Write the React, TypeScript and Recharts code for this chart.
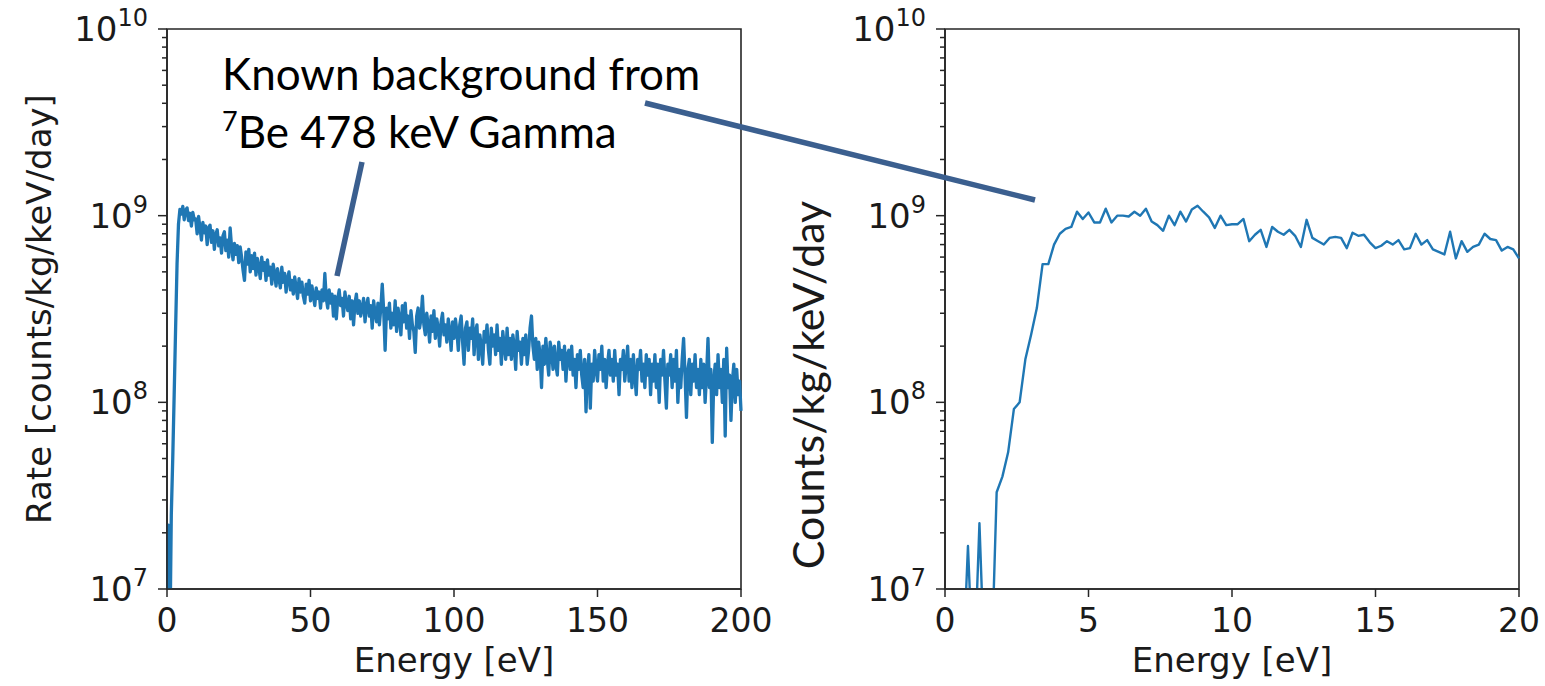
import { LineChart, Line, XAxis, YAxis, ReferenceArea } from 'recharts'

const LEFT_STEP_EV = 0.5
const RIGHT_STEP_EV = 0.2

// rate, units of 1e8 counts/kg/keV/day, 0..200 eV in 0.5 eV bins
const leftRateE8 = [
  0.03, 0.22, 0.05, 0.25, 0.5, 1.1, 2.5, 5.5, 9.0, 10.8,
  10.2, 11.2, 9.5, 10.7, 11.0, 9.4, 10.3, 8.8, 10.4, 9.5,
  9.6, 8.0, 9.9, 8.6, 7.4, 9.2, 8.1, 8.8, 7.0, 8.6,
  8.9, 7.2, 8.3, 6.6, 7.9, 8.4, 6.9, 7.6, 6.3, 7.8,
  8.2, 6.5, 7.4, 6.0, 8.6, 6.8, 5.8, 7.1, 6.2, 6.9,
  5.6, 6.8, 6.0, 5.1, 4.5, 6.4, 5.5, 6.6, 5.0, 6.1,
  5.2, 6.3, 4.8, 5.9, 5.3, 4.6, 6.0, 5.1, 5.6, 4.5,
  5.8, 4.8, 5.3, 4.3, 5.5, 4.9, 4.2, 5.2, 4.6, 4.1,
  5.3, 4.4, 4.9, 3.9, 4.6, 5.0, 4.0, 4.5, 3.8, 4.7,
  4.1, 3.6, 4.6, 3.9, 4.4, 3.7, 3.4, 4.3, 3.8, 4.5,
  3.5, 4.2, 3.7, 3.3, 4.1, 3.6, 3.9, 3.2, 4.0, 3.5,
  4.9, 3.6, 3.2, 4.0, 3.4, 3.8, 2.9, 3.7, 2.8, 3.6,
  4.0, 3.3, 3.6, 2.9, 3.9, 3.4, 3.1, 3.7, 2.8, 3.5,
  2.6, 3.4, 3.8, 3.0, 3.5, 2.9, 3.2, 3.6, 2.7, 3.3,
  3.6, 2.9, 3.3, 2.5, 3.5, 3.0, 2.7, 3.4, 2.6, 3.2,
  4.3, 3.1, 1.9, 3.2, 2.8, 3.4, 2.5, 3.0, 2.6, 3.5,
  2.4, 3.2, 2.8, 2.3, 3.3, 2.7, 3.4, 2.5, 2.9, 2.2,
  3.1, 2.6, 2.4, 1.85, 2.9, 3.2, 2.5, 2.8, 3.7, 2.6,
  2.3, 3.0, 2.6, 2.1, 2.9, 2.4, 3.1, 2.2, 2.8, 2.5,
  2.0, 2.7, 3.0, 2.3, 2.6, 2.1, 2.8, 2.4, 1.9, 2.7,
  2.2, 2.8, 2.4, 1.9, 2.6, 2.9, 2.1, 1.6, 2.5, 2.7,
  1.9, 2.5, 2.2, 2.8, 1.8, 2.4, 2.6, 1.7, 2.3, 2.0,
  1.6, 2.4, 2.1, 2.6, 1.9, 1.6, 2.5, 2.0, 2.3, 1.8,
  2.6, 1.9, 2.2, 1.6, 2.4, 2.0, 1.7, 2.5, 1.8, 2.2,
  1.7, 2.3, 2.0, 1.5, 2.4, 1.9, 2.1, 1.6, 2.2, 1.8,
  2.3, 1.6, 1.9, 2.5, 2.9, 2.0, 1.7, 2.2, 1.5, 2.1,
  1.8, 1.2, 2.0, 1.6, 2.2, 1.7, 1.4, 2.1, 1.9, 1.5,
  2.0, 1.6, 1.4, 2.1, 1.7, 1.9, 1.5, 2.0, 1.3, 1.8,
  1.9, 1.5, 2.0, 1.4, 1.7, 1.2, 1.8, 1.5, 1.9, 1.4,
  1.2, 1.7, 0.89, 1.5, 1.8, 0.93, 1.6, 1.3, 1.9, 1.5,
  1.3, 1.8, 1.5, 2.0, 1.3, 1.7, 1.2, 1.6, 1.9, 1.4,
  1.7, 1.3, 1.9, 1.4, 1.6, 1.1, 1.7, 1.5, 1.9, 1.3,
  1.6, 2.0, 1.3, 1.7, 1.2, 1.8, 1.4, 1.1, 1.7, 1.5,
  1.9, 1.3, 1.6, 1.2, 1.8, 1.4, 1.7, 1.1, 1.6, 1.3,
  1.8, 1.2, 1.6, 1.0, 1.7, 1.4, 1.9, 1.3, 0.93, 1.6,
  1.4, 1.8, 1.2, 1.7, 1.3, 1.9, 1.0, 1.5, 1.2, 1.7,
  2.2, 1.4, 0.83, 1.5, 1.7, 1.1, 1.6, 1.3, 1.8, 1.2,
  1.5, 1.1, 1.7, 1.2, 1.6, 1.0, 1.4, 2.2, 1.2, 1.5,
  0.61, 1.3, 1.6, 1.1, 1.8, 1.2, 1.5, 1.0, 1.7, 0.66,
  1.95, 1.2, 1.4, 0.8, 1.3, 1.6, 1.0, 1.5, 1.1, 1.3,
  0.9,
]

// zoomed panel, 0..20 eV in 0.2 eV bins, same units
const rightRateE8 = [
  0.03, 0.03, 0.03, 0.03, 0.17, 0.03, 0.225, 0.03, 0.03, 0.33,
  0.4, 0.54, 0.92, 1.0, 1.7, 2.3, 3.2, 5.5, 5.5, 7.0,
  8.0, 8.5, 8.7, 10.5, 9.6, 10.4, 9.2, 9.2, 10.9, 9.2,
  10.0, 10.0, 9.9, 10.5, 10.0, 10.9, 9.3, 8.9, 8.3, 10.0,
  8.9, 10.5, 9.3, 10.8, 11.3, 10.5, 9.8, 8.6, 10.0, 8.9,
  9.0, 9.0, 9.6, 7.3, 7.9, 8.4, 6.8, 8.7, 8.2, 7.9,
  8.4, 7.8, 6.8, 9.5, 7.6, 7.3, 7.0, 7.6, 7.7, 7.6,
  6.7, 8.1, 7.8, 7.9, 7.2, 6.7, 6.9, 7.3, 7.0, 7.4,
  6.6, 6.7, 8.0, 7.0, 7.4, 6.6, 6.4, 6.2, 8.2, 5.9,
  7.3, 6.4, 6.8, 7.0, 8.0, 7.5, 7.4, 6.5, 6.8, 6.6,
  5.9,
]

const leftXTicks = [0, 50, 100, 150, 200]
const rightXTicks = [0, 5, 10, 15, 20]
const decades = [1e7, 1e8, 1e9, 1e10]
const minorSteps = [2, 3, 4, 5, 6, 7, 8, 9]

const yTicks = decades.flatMap((d, i) =>
  i < decades.length - 1 ? [d, ...minorSteps.map(m => m * d)] : [d]
)

const leftData = leftRateE8.map((r, i) => ({ energy: i * LEFT_STEP_EV, rate: r * 1e8 }))
const rightData = rightRateE8.map((r, i) => ({ energy: +(i * RIGHT_STEP_EV).toFixed(1), rate: r * 1e8 }))

const BLUE = '#1f77b4'
const AXIS = '#262626'
const INK = '#1a1a1a'
const ARROW = '#3b5f8f'
const MPL_FONT = '"DejaVu Sans", sans-serif'
const PPT_FONT = 'Lato, "Open Sans", sans-serif'

function LogTick(props: any) {
  const { x, y, payload } = props
  const v = payload.value as number
  const exp = Math.round(Math.log10(v))
  const major = Math.abs(v / 10 ** exp - 1) < 1e-6
  return (
    <g>
      <line x1={x} x2={x - (major ? 9 : 5)} y1={y} y2={y} stroke={AXIS} strokeWidth={1.5} />
      {major && (
        <text x={x - 19} y={y + 12} textAnchor="end" fontFamily={MPL_FONT} fontSize={34} fill={INK}>
          <tspan>10</tspan>
          <tspan dy={-15} fontSize={24}>{exp}</tspan>
        </text>
      )}
    </g>
  )
}

function YTitle(props: any) {
  const { viewBox, text, cx, shift, font, size } = props
  const cy = viewBox.y + viewBox.height / 2 + shift
  return (
    <text
      x={cx}
      y={cy}
      transform={`rotate(-90 ${cx} ${cy})`}
      textAnchor="middle"
      dominantBaseline="central"
      fontFamily={font}
      fontSize={size}
      fill={INK}
    >
      {text}
    </text>
  )
}

interface PanelProps {
  data: { energy: number; rate: number }[]
  xTicks: number[]
  xMax: number
  yWidth: number
  width: number
  rightMargin: number
  yTitle: React.ReactElement
  strokeWidth: number
}

function Panel({ data, xTicks, xMax, yWidth, width, rightMargin, yTitle, strokeWidth }: PanelProps) {
  return (
    <LineChart width={width} height={686} data={data} margin={{ top: 29, right: rightMargin, bottom: 0, left: 0 }}>
      <XAxis
        dataKey="energy"
        type="number"
        domain={[0, xMax]}
        ticks={xTicks}
        interval={0}
        height={97}
        tickSize={8}
        tickMargin={12}
        axisLine={{ stroke: AXIS, strokeWidth: 1.6 }}
        tickLine={{ stroke: AXIS, strokeWidth: 1.5 }}
        tick={{ fontFamily: MPL_FONT, fontSize: 33, fill: INK }}
        label={{ value: 'Energy [eV]', position: 'insideBottom', offset: 14, style: { fontFamily: MPL_FONT, fontSize: 34, fill: INK } }}
      />
      <YAxis
        type="number"
        scale="log"
        domain={[1e7, 1e10]}
        allowDataOverflow
        ticks={yTicks}
        interval={0}
        width={yWidth}
        tickSize={0}
        tickMargin={0}
        tickLine={false}
        axisLine={{ stroke: AXIS, strokeWidth: 1.6 }}
        tick={(p: any) => <LogTick {...p} />}
        label={yTitle}
      />
      <ReferenceArea x1={0} x2={xMax} y1={1e7} y2={1e10} fill="none" fillOpacity={0} stroke={AXIS} strokeWidth={1.6} />
      <Line type="linear" dataKey="rate" stroke={BLUE} strokeWidth={strokeWidth} strokeLinejoin="round" dot={false} isAnimationActive={false} />
    </LineChart>
  )
}

export default function App() {
  return (
    <div style={{ position: 'absolute', left: 0, top: 0, width: 1545, height: 686, background: '#fff', overflow: 'hidden' }}>
      <div style={{ position: 'absolute', left: 0, top: 0 }}>
        <Panel
          data={leftData}
          xTicks={leftXTicks}
          xMax={200}
          yWidth={167}
          width={800}
          rightMargin={59}
          strokeWidth={3.3}
          yTitle={<YTitle text="Rate [counts/kg/keV/day]" cx={39} shift={0} font={MPL_FONT} size={34} />}
        />
      </div>
      <div style={{ position: 'absolute', left: 770, top: 0 }}>
        <Panel
          data={rightData}
          xTicks={rightXTicks}
          xMax={20}
          yWidth={175}
          width={775}
          rightMargin={26}
          strokeWidth={2.4}
          yTitle={<YTitle text="Counts/kg/keV/day" cx={37} shift={76} font={PPT_FONT} size={43} />}
        />
      </div>
      <svg width={1545} height={686} style={{ position: 'absolute', left: 0, top: 0, pointerEvents: 'none' }}>
        <text x={222} y={90} fontFamily={PPT_FONT} fontSize={44} fill="#000">Known background from</text>
        <text x={222} y={148} fontFamily={PPT_FONT} fontSize={44} fill="#000">
          <tspan fontSize={27} dy={-17}>7</tspan>
          <tspan dy={17}>Be 478 keV Gamma</tspan>
        </text>
        <line x1={362} y1={162} x2={337} y2={276} stroke={ARROW} strokeWidth={5.5} />
        <line x1={645} y1={103} x2={1035} y2={200} stroke={ARROW} strokeWidth={5.5} />
      </svg>
    </div>
  )
}
